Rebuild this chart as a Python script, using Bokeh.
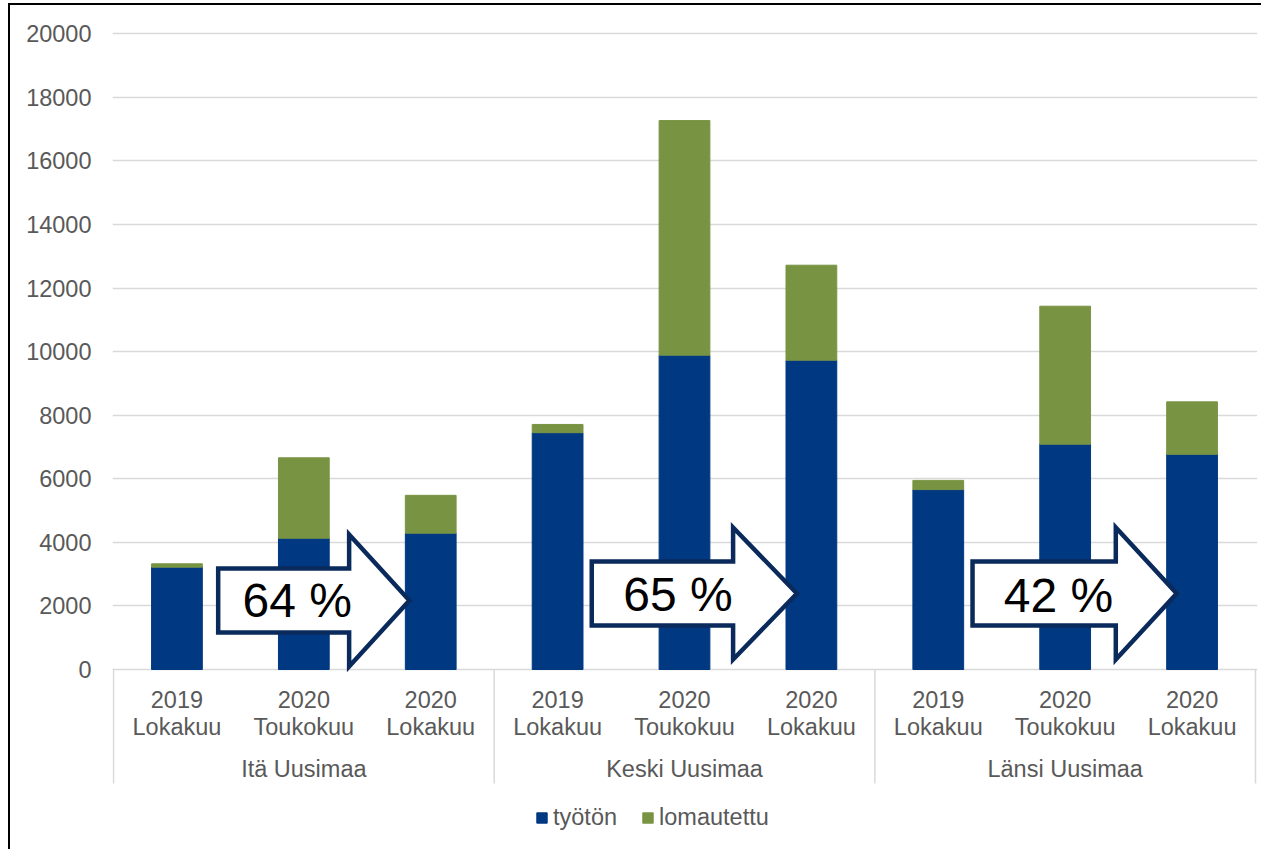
from bokeh.plotting import figure
from bokeh.models import ColumnDataSource, Range1d, FixedTicker, Legend, LegendItem
from bokeh.core.properties import value
from bokeh.embed import file_html
from bokeh.resources import INLINE

# ---- data ----
regions = ["Itä Uusimaa", "Keski Uusimaa", "Länsi Uusimaa"]
years = ["2019", "2020", "2020"]
months = ["Lokakuu", "Toukokuu", "Lokakuu"]
tyoton = [3220, 4130, 4290, 7450, 9890, 9730, 5660, 7090, 6770]
lomautettu = [105, 2530, 1190, 260, 7380, 2990, 290, 4340, 1650]
series_labels = ["työtön", "lomautettu"]
changes = ["64 %", "65 %", "42 %"]
y_ticks = list(range(0, 20001, 2000))

# ---- style ----
BLUE = "#003882"
GREEN = "#789443"
NAVY = "#0b2a5c"
GRID = "#d9d9d9"
TXT = "#595959"
FONT = value("Liberation Sans")
FS = value("23.5px")

# layout helpers (page px -> data)
OX, OY = 10, 5            # canvas origin on page (after margin + border)
PXX = (1255 - 113) / 9.0  # px per category
PXY = (669 - 33.3) / 20000.0  # px per unit
ZERO_Y = 669


def py(page_y):
    return (ZERO_Y - page_y) / PXY


frame_top, frame_bottom = 18, 851
frame_left, frame_right = 112, 1257
W, H = 1253, 846

n = len(tyoton)
xs = [i + 0.5 for i in range(n)]
src = ColumnDataSource(dict(x=xs, tyoton=tyoton, lomautettu=lomautettu))

p = figure(
    width=W, height=H,
    x_range=Range1d(-(113 - frame_left) / PXX, 9 + (frame_right - 1255) / PXX),
    y_range=Range1d(py(frame_bottom), py(frame_top)),
    x_axis_type=None,
    output_backend="svg", toolbar_location=None,
    min_border_left=frame_left - OX, min_border_right=OX + W - frame_right,
    min_border_top=frame_top - OY, min_border_bottom=OY + H - frame_bottom,
)
p.styles = {"margin-left": "8px", "margin-top": "3px",
            "border-left": "2px solid #000000", "border-top": "2px solid #000000"}
p.outline_line_color = None
p.background_fill_color = "white"
p.border_fill_color = "white"

ticker = FixedTicker(ticks=y_ticks)
p.yaxis.ticker = ticker
p.yaxis.axis_line_color = None
p.yaxis.major_tick_line_color = None
p.yaxis.minor_tick_line_color = None
p.yaxis.major_tick_out = 0
p.yaxis.major_tick_in = 0
p.yaxis.major_label_standoff = 21
p.yaxis.major_label_text_font = "Liberation Sans"
p.yaxis.major_label_text_font_size = "23.5px"
p.yaxis.major_label_text_color = TXT
p.ygrid.ticker = ticker
p.ygrid.grid_line_color = GRID
p.ygrid.grid_line_width = 1.5

# bars
rs = p.vbar_stack(["tyoton", "lomautettu"], x="x", width=0.4, color=[BLUE, GREEN], source=src)

# separators of category axis
groups = len(regions)
sep_x = [g * 3 for g in range(groups + 1)]
p.segment(x0=sep_x, y0=0, x1=sep_x, y1=py(783), line_color=GRID, line_width=1.5)

# category labels
p.text(x=xs, y=py(699), text=years * groups, text_font=FONT, text_font_size=FS,
       text_color=TXT, text_align="center", text_baseline="middle")
p.text(x=xs, y=py(726), text=months * groups, text_font=FONT, text_font_size=FS,
       text_color=TXT, text_align="center", text_baseline="middle")
p.text(x=[g * 3 + 1.5 for g in range(groups)], y=py(768), text=regions, text_font=FONT,
       text_font_size=FS, text_color=TXT, text_align="center", text_baseline="middle")

# arrows (annotation shapes)
arrow_geom = [  # left, base, tip (relative to group start), center page-y
    (0.825, 1.857, 2.332, 600),
    (0.769, 1.883, 2.386, 593),
    (0.770, 1.899, 2.379, 593),
]
hb = 32 / PXY
hh = 66 / PXY
axs, ays = [], []
for g, (l, b, t, cy) in enumerate(arrow_geom):
    o = g * 3
    yc = py(cy)
    axs.append([o + l, o + b, o + b, o + t, o + b, o + b, o + l])
    ays.append([yc + hb, yc + hb, yc + hh, yc, yc - hh, yc - hb, yc - hb])
p.patches(axs, ays, fill_color="white", line_color=NAVY, line_width=4.5, line_join="miter")

text_y = [py(600), py(594), py(594.5)]
p.text(x=[g * 3 + 1.448 for g in range(groups)], y=text_y, text=changes, text_font=FONT,
       text_font_size=value("48px"), text_color="black", text_align="center",
       text_baseline="middle")

legend = Legend(
    items=[LegendItem(label=series_labels[0], renderers=[rs[0]]),
           LegendItem(label=series_labels[1], renderers=[rs[1]])],
    orientation="horizontal", location=(535 - frame_left, frame_bottom - 831),
    glyph_width=13, glyph_height=13, label_standoff=5, spacing=24,
    padding=0, margin=0, border_line_color=None, background_fill_alpha=0,
    label_text_font="Liberation Sans", label_text_font_size="23.5px", label_text_color=TXT,
)
p.add_layout(legend)

open("out.html", "w").write(file_html(p, INLINE))
